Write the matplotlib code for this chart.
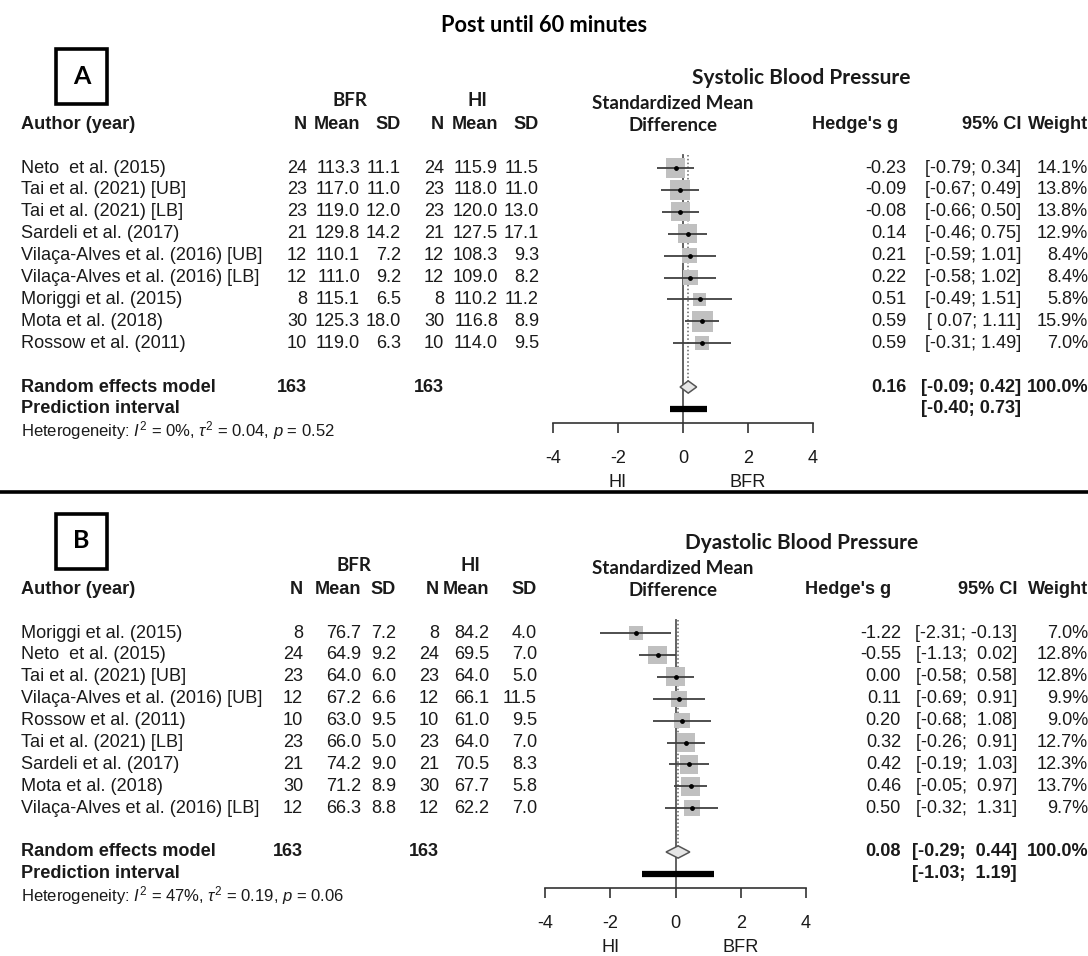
import numpy as np
import matplotlib
matplotlib.use("Agg")
from matplotlib import pyplot as plt
from matplotlib.lines import Line2D
from matplotlib.patches import Rectangle
from matplotlib.transforms import blended_transform_factory

# ---- Systolic blood pressure (panel A) ----
sbp_study = ["Neto  et al. (2015)", "Tai et al. (2021) [UB]", "Tai et al. (2021) [LB]",
             "Sardeli et al. (2017)", "Vilaça-Alves et al. (2016) [UB]",
             "Vilaça-Alves et al. (2016) [LB]", "Moriggi et al. (2015)",
             "Mota et al. (2018)", "Rossow et al. (2011)"]
sbp_n_bfr = [24, 23, 23, 21, 12, 12, 8, 30, 10]
sbp_mean_bfr = [113.3, 117.0, 119.0, 129.8, 110.1, 111.0, 115.1, 125.3, 119.0]
sbp_sd_bfr = [11.1, 11.0, 12.0, 14.2, 7.2, 9.2, 6.5, 18.0, 6.3]
sbp_n_hi = [24, 23, 23, 21, 12, 12, 8, 30, 10]
sbp_mean_hi = [115.9, 118.0, 120.0, 127.5, 108.3, 109.0, 110.2, 116.8, 114.0]
sbp_sd_hi = [11.5, 11.0, 13.0, 17.1, 9.3, 8.2, 11.2, 8.9, 9.5]
sbp_g = [-0.23, -0.09, -0.08, 0.14, 0.21, 0.22, 0.51, 0.59, 0.59]
sbp_lo = [-0.79, -0.67, -0.66, -0.46, -0.59, -0.58, -0.49, 0.07, -0.31]
sbp_hi = [0.34, 0.49, 0.50, 0.75, 1.01, 1.02, 1.51, 1.11, 1.49]
sbp_w = [14.1, 13.8, 13.8, 12.9, 8.4, 8.4, 5.8, 15.9, 7.0]
sbp_pooled = [0.16, -0.09, 0.42]
sbp_pi = [-0.40, 0.73]
sbp_total = [163, 163]
sbp_het = r"Heterogeneity: $I^2$ = 0%, $\tau^2$ = 0.04, $p$ = 0.52"

# ---- Diastolic blood pressure (panel B) ----
dbp_study = ["Moriggi et al. (2015)", "Neto  et al. (2015)", "Tai et al. (2021) [UB]",
             "Vilaça-Alves et al. (2016) [UB]", "Rossow et al. (2011)",
             "Tai et al. (2021) [LB]", "Sardeli et al. (2017)", "Mota et al. (2018)",
             "Vilaça-Alves et al. (2016) [LB]"]
dbp_n_bfr = [8, 24, 23, 12, 10, 23, 21, 30, 12]
dbp_mean_bfr = [76.7, 64.9, 64.0, 67.2, 63.0, 66.0, 74.2, 71.2, 66.3]
dbp_sd_bfr = [7.2, 9.2, 6.0, 6.6, 9.5, 5.0, 9.0, 8.9, 8.8]
dbp_n_hi = [8, 24, 23, 12, 10, 23, 21, 30, 12]
dbp_mean_hi = [84.2, 69.5, 64.0, 66.1, 61.0, 64.0, 70.5, 67.7, 62.2]
dbp_sd_hi = [4.0, 7.0, 5.0, 11.5, 9.5, 7.0, 8.3, 5.8, 7.0]
dbp_g = [-1.22, -0.55, 0.00, 0.11, 0.20, 0.32, 0.42, 0.46, 0.50]
dbp_lo = [-2.31, -1.13, -0.58, -0.69, -0.68, -0.26, -0.19, -0.05, -0.32]
dbp_hi = [-0.13, 0.02, 0.58, 0.91, 1.08, 0.91, 1.03, 0.97, 1.31]
dbp_w = [7.0, 12.8, 12.8, 9.9, 9.0, 12.7, 12.3, 13.7, 9.7]
dbp_pooled = [0.08, -0.29, 0.44]
dbp_pi = [-1.03, 1.19]
dbp_total = [163, 163]
dbp_het = r"Heterogeneity: $I^2$ = 47%, $\tau^2$ = 0.19, $p$ = 0.06"

W, H = 1088, 956
plt.rcParams['font.family'] = ['Liberation Sans', 'DejaVu Sans']
plt.rcParams['mathtext.fontset'] = 'custom'
plt.rcParams['mathtext.rm'] = 'Liberation Sans'
plt.rcParams['mathtext.it'] = 'Liberation Sans:italic'
FS = 13.1
HEAD = ['Lato', 'DejaVu Sans']
TXT = '#1a1a1a'


def fx(px):
    return px / W


def fy(py):
    return 1 - py / H


def fmt_col(vals):
    s = ["%.2f" % v for v in vals]
    n = max(len(v) for v in s)
    return [v.rjust(n) for v in s]


fig = plt.figure(figsize=(W / 100, H / 100), dpi=100)
fig.text(0.5, fy(26), "Post until 60 minutes", family=HEAD, weight='bold',
         fontsize=15.7, ha='center', va='center')


def panel(letter, title, study, n1, m1, s1, n2, m2, s2, g, lo, hi, w,
          pooled, pi, total, het, dy, xr, cols):
    row0, sp = 168 + dy, 21.9
    ax_bottom_row = 11.65
    top_row = -0.8
    y_top = row0 + top_row * sp
    y_bot = row0 + ax_bottom_row * sp
    ax = fig.add_axes([fx(xr[0]), fy(y_bot), fx(xr[1]) - fx(xr[0]), (y_bot - y_top) / H])
    ax.set_xlim(-4, 4)
    ax.set_ylim(ax_bottom_row, top_row)
    for s in ['left', 'right', 'top']:
        ax.spines[s].set_visible(False)
    ax.spines['bottom'].set_linewidth(1.2)
    ax.spines['bottom'].set_color('#333333')
    ax.set_yticks([])
    ax.set_xticks([-4, -2, 0, 2, 4])
    ax.set_xticklabels(['-4', '-2', '0', '2', '4'])
    ax.tick_params(axis='x', direction='out', length=7, width=1.2, pad=12,
                   labelsize=FS, colors='#333333', labelcolor=TXT)
    ax.patch.set_alpha(0)

    rows = np.arange(len(study))
    r_re, r_pi = 10, 11
    # reference lines
    ax.plot([0, 0], [-0.6, ax_bottom_row], color='#555555', lw=1.3, zorder=1)
    ax.plot([pooled[0]] * 2, [-0.6, r_re], color='#666666', lw=1.1, ls=(0, (1, 1.5)), zorder=1)
    # study squares and CIs
    side = 5.2 * np.sqrt(np.array(w)) * 0.72
    ax.scatter(g, rows, marker='s', s=side ** 2, color='#c0c0c0', edgecolors='none', zorder=2)
    ax.hlines(rows, lo, hi, color='#404040', lw=1.3, zorder=3)
    ax.scatter(g, rows, marker='o', s=6, color='black', zorder=4)
    # pooled diamond
    ax.fill([pooled[1], pooled[0], pooled[2], pooled[0]],
            [r_re, r_re - 0.28, r_re, r_re + 0.28],
            facecolor='#e6e6e6', edgecolor='#555555', lw=1.1, zorder=3)
    # prediction interval
    ax.plot(pi, [r_pi, r_pi], color='black', lw=4.5, solid_capstyle='butt', zorder=3)
    ax.text(-2, 14.35, "HI", ha='center', va='center', fontsize=FS, color=TXT)
    ax.text(2, 14.35, "BFR", ha='center', va='center', fontsize=FS, color=TXT)

    tr = blended_transform_factory(fig.transFigure, ax.transData)

    def t(x, r, s, **kw):
        kw.setdefault('fontsize', FS)
        kw.setdefault('color', TXT)
        ax.text(fx(x), r, s, transform=tr, va='center', **kw)

    # headers
    t(cols['bfr'], -3.1, "BFR", ha='center', family=HEAD, weight='bold', fontsize=13.5)
    t(cols['hic'], -3.1, "HI", ha='center', family=HEAD, weight='bold', fontsize=13.5)
    t(cols['std'], -2.95, "Standardized Mean", ha='center', family=HEAD, weight='bold', fontsize=13.5)
    t(cols['std'], -1.95, "Difference", ha='center', family=HEAD, weight='bold', fontsize=13.5)
    t(21, -2, "Author (year)", ha='left', weight='bold')
    for key, lab in [('n1', 'N'), ('m1', 'Mean'), ('s1', 'SD'),
                     ('n2', 'N'), ('m2', 'Mean'), ('s2', 'SD')]:
        t(cols[key], -2, lab, ha='right', weight='bold')
    t(cols['gh'], -2, "Hedge's g", ha='right', weight='bold')
    t(cols['ci'], -2, "95% CI", ha='right', weight='bold')
    t(1088, -2, "Weight", ha='right', weight='bold')

    lo_s = fmt_col(list(lo) + [pooled[1], pi[0]])
    hi_s = fmt_col(list(hi) + [pooled[2], pi[1]])
    for i in range(len(study)):
        t(21, i, study[i], ha='left')
        t(cols['n1'], i, str(n1[i]), ha='right')
        t(cols['m1'], i, "%.1f" % m1[i], ha='right')
        t(cols['s1'], i, "%.1f" % s1[i], ha='right')
        t(cols['n2'], i, str(n2[i]), ha='right')
        t(cols['m2'], i, "%.1f" % m2[i], ha='right')
        t(cols['s2'], i, "%.1f" % s2[i], ha='right')
        t(cols['g'], i, "%.2f" % g[i], ha='right')
        t(cols['ci'], i, "[%s; %s]" % (lo_s[i], hi_s[i]), ha='right')
        t(1088, i, "%.1f%%" % w[i], ha='right')
    k = len(study)
    t(21, r_re, "Random effects model", ha='left', weight='bold')
    t(cols['n1'], r_re, str(total[0]), ha='right', weight='bold')
    t(cols['n2'], r_re, str(total[1]), ha='right', weight='bold')
    t(cols['g'], r_re, "%.2f" % pooled[0], ha='right', weight='bold')
    t(cols['ci'], r_re, "[%s; %s]" % (lo_s[k], hi_s[k]), ha='right', weight='bold')
    t(1088, r_re, "100.0%", ha='right', weight='bold')
    t(21, r_pi, "Prediction interval", ha='left', weight='bold')
    t(cols['ci'], r_pi, "[%s; %s]" % (lo_s[k + 1], hi_s[k + 1]), ha='right', weight='bold')
    t(21, 12, het, ha='left', fontsize=12)

    # panel title and letter box
    t(cols['title'], -4.1, title, ha='left', family=HEAD, weight='bold', fontsize=15)
    fig.add_artist(Rectangle((fx(56), fy(104 + dy)), fx(51), 55 / H, fill=False,
                             lw=2.6, edgecolor='black', transform=fig.transFigure))
    fig.text(fx(81.5), fy(76 + dy), letter, family=HEAD, weight='bold', fontsize=18,
             ha='center', va='center')


panel("A", "Systolic Blood Pressure", sbp_study, sbp_n_bfr, sbp_mean_bfr, sbp_sd_bfr,
      sbp_n_hi, sbp_mean_hi, sbp_sd_hi, sbp_g, sbp_lo, sbp_hi, sbp_w,
      sbp_pooled, sbp_pi, sbp_total, sbp_het, 0, (553, 813),
      dict(n1=307, m1=360, s1=401, n2=444, m2=498, s2=539, bfr=350, hic=477,
           std=673, g=906, ci=1021, gh=898, title=692))
panel("B", "Dyastolic Blood Pressure", dbp_study, dbp_n_bfr, dbp_mean_bfr, dbp_sd_bfr,
      dbp_n_hi, dbp_mean_hi, dbp_sd_hi, dbp_g, dbp_lo, dbp_hi, dbp_w,
      dbp_pooled, dbp_pi, dbp_total, dbp_het, 465, (545, 806),
      dict(n1=303, m1=361, s1=396, n2=439, m2=489, s2=537, bfr=354, hic=470,
           std=673, g=901, ci=1017, gh=891, title=685))

fig.add_artist(Line2D([0, 1], [fy(492), fy(492)], color='black', lw=2.6,
                      transform=fig.transFigure))

fig.savefig("out.png", dpi=100)
